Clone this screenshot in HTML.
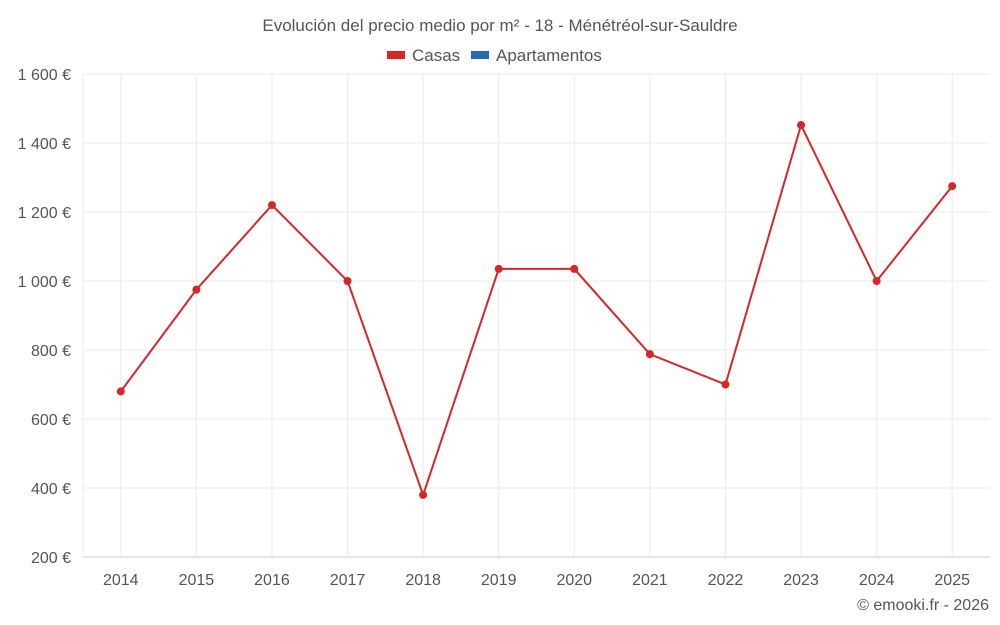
<!DOCTYPE html>
<html><head><meta charset="utf-8"><style>
body{margin:0;background:#fff;font-family:"Liberation Sans",sans-serif;}
svg{display:block}
</style></head><body>
<svg id="chart" width="1000" height="625">
<text x="500" y="31" text-anchor="middle" font-size="17" fill="#555">Evolución del precio medio por m² - 18 - Ménétréol-sur-Sauldre</text>
<g>
<g><rect x="387" y="51" width="18" height="8" fill="#d62728"/><text x="412" y="61" font-size="17" fill="#555">Casas</text></g>
<g><rect x="471" y="51" width="18" height="8" fill="#1f6fb0"/><text x="496" y="61" font-size="17" fill="#555">Apartamentos</text></g>
</g>
<g id="grid"></g><g id="axes"></g><g id="series"></g>
<text x="989" y="610" text-anchor="end" font-size="16" fill="#555">© emooki.fr - 2026</text>
</svg>
<script>
const years=[2014,2015,2016,2017,2018,2019,2020,2021,2022,2023,2024,2025];
const casas=[680,975,1220,1000,380,1035,1035,788,700,1452,1000,1275];
const yTicks=[200,400,600,800,1000,1200,1400,1600];
const yTickLabels=["200 €","400 €","600 €","800 €","1 000 €","1 200 €","1 400 €","1 600 €"];
const L=83,R=990,T=74,B=557,ymin=200,ymax=1600;
const bw=(R-L)/years.length;
const x=i=>L+bw*(i+0.5);
const y=v=>B-(v-ymin)/(ymax-ymin)*(B-T);
const NS="http://www.w3.org/2000/svg";
function mk(tag,attrs,parent){const e=document.createElementNS(NS,tag);for(const k in attrs)e.setAttribute(k,attrs[k]);document.getElementById(parent).appendChild(e);return e;}
yTicks.forEach((t,i)=>{
 const g=mk('line',{x1:L,x2:R,y1:y(t),y2:y(t),stroke:'#ebebeb'},'grid');
 
 
 const tx=mk('text',{x:71,y:y(t)+6,'text-anchor':'end','font-size':16,fill:'#555'},'axes');
 tx.textContent=yTickLabels[i];
 
 
});
years.forEach((yr,i)=>{
 const g=mk('line',{x1:x(i),x2:x(i),y1:T,y2:B,stroke:'#ebebeb'},'grid');
 
 
 const tx=mk('text',{x:x(i),y:585,'text-anchor':'middle','font-size':16,fill:'#555'},'axes');
 tx.textContent=yr;
 
 
});
const lv=mk('line',{x1:L,x2:L,y1:T,y2:B,stroke:'#ebebeb'},'axes');


const ax=mk('line',{x1:L,x2:R,y1:B,y2:B,stroke:'#ccc'},'axes');


const p=mk('polyline',{points:casas.map((v,i)=>x(i)+','+y(v)).join(' '),fill:'none',stroke:'#d62728','stroke-width':2},'series');


casas.forEach((v,i)=>{
 const c=mk('circle',{cx:x(i),cy:y(v),r:4,fill:'#d62728'},'series');
 
 
});
</script>
</body></html>
